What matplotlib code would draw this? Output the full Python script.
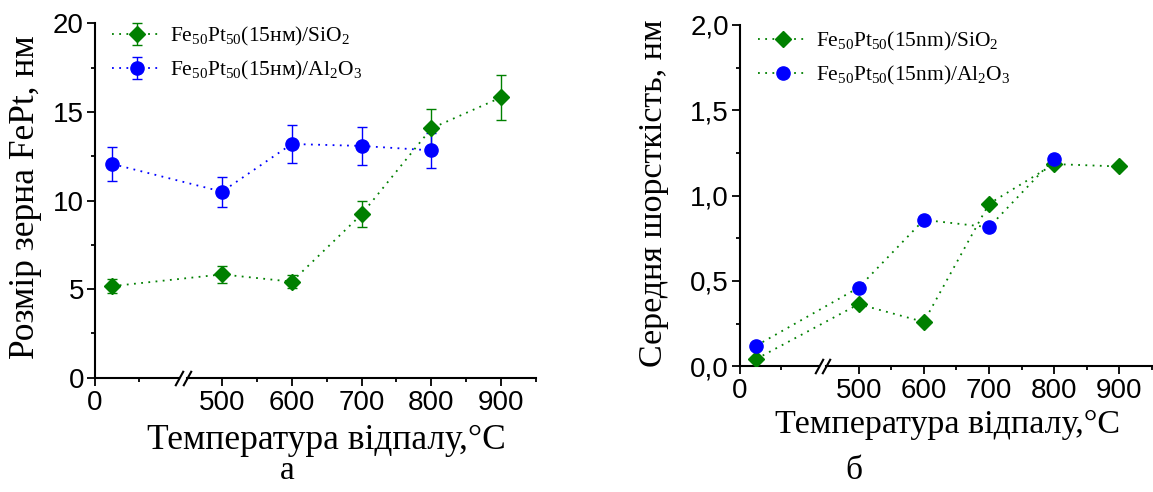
import numpy as np
import matplotlib
matplotlib.use('Agg')
import matplotlib.pyplot as plt
from matplotlib.ticker import FixedLocator, FuncFormatter, MultipleLocator

plt.rcParams['font.family'] = ['Liberation Serif', 'DejaVu Serif']
plt.rcParams['mathtext.fontset'] = 'custom'
plt.rcParams['mathtext.rm'] = 'Liberation Serif'
plt.rcParams['mathtext.it'] = 'Liberation Serif:italic'

# annealing temperatures, C (first point is the as-deposited film)
temps = [20, 500, 600, 700, 800, 900]
temps_al = [20, 500, 600, 700, 800]

# (a) grain size, nm
grain_sio2 = [5.17, 5.83, 5.42, 9.22, 14.07, 15.82]
grain_sio2_err = [0.4, 0.5, 0.35, 0.73, 1.12, 1.25]
grain_al2o3 = [12.06, 10.5, 13.19, 13.08, 12.83]
grain_al2o3_err = [0.97, 0.84, 1.05, 1.05, 1.0]

# (b) mean roughness, nm
rough_sio2 = [0.043, 0.364, 0.26, 0.952, 1.185, 1.171]
rough_al2o3 = [0.121, 0.461, 0.858, 0.815, 1.216]

x_major = [0, 500, 600, 700, 800, 900]
x_minor = [50, 550, 650, 750, 850, 950]
x_labels = ['0', '500', '600', '700', '800', '900']

GREEN = '#008000'
BLUE = '#0000ff'
DOTS = (0, (1, 3))


def to_axis(t):
    # broken x axis: 0..~100 is stretched, 450..950 is kept linear
    t = np.asarray(t, dtype=float)
    return np.where(t < 450, 1.25 * t, t - 450 + 132)


def setup_axis(ax, ymax, ystep, decimal_comma):
    for side in ['top', 'right', 'bottom']:
        ax.spines[side].set_visible(False)
    ax.spines['left'].set_linewidth(1.5)
    ax.set_xlim(0, float(to_axis(950)))
    ax.set_ylim(0, ymax)

    # bottom spine in two pieces with // break marks
    trans = ax.get_xaxis_transform()
    ax.plot([0, 121], [0, 0], transform=trans, color='k', lw=1.5, clip_on=False)
    ax.plot([132, float(to_axis(950))], [0, 0], transform=trans, color='k', lw=1.5,
            clip_on=False)
    ax.plot([121, 132], [0, 0], transform=trans, linestyle='none', color='k',
            marker=[(-0.55, -1), (0.55, 1)], markersize=11, mew=1.5, clip_on=False)

    ax.xaxis.set_major_locator(FixedLocator(to_axis(x_major)))
    ax.xaxis.set_minor_locator(FixedLocator(to_axis(x_minor)))
    ax.set_xticklabels(x_labels)
    ax.yaxis.set_major_locator(MultipleLocator(ystep))
    ax.yaxis.set_minor_locator(MultipleLocator(ystep / 2))
    if decimal_comma:
        ax.yaxis.set_major_formatter(FuncFormatter(lambda v, p: f'{v:.1f}'.replace('.', ',')))
    else:
        ax.yaxis.set_major_formatter(FuncFormatter(lambda v, p: f'{v:.0f}'))

    ax.tick_params(which='major', direction='out', length=5.5, width=1.3)
    ax.tick_params(which='minor', direction='out', length=3, width=1.3)
    ax.tick_params(axis='x', which='major', pad=3)
    ax.tick_params(axis='y', which='major', pad=2.5)
    for lab in ax.get_xticklabels() + ax.get_yticklabels():
        lab.set_fontfamily('Liberation Sans')
        lab.set_fontsize(20)


fig = plt.figure(figsize=(11.53, 4.92), dpi=100)
ax1 = fig.add_axes([0.0824, 0.2323, 0.3825, 0.7203])
ax2 = fig.add_axes([0.6418, 0.2555, 0.3573, 0.6937])

# ---- panel a
setup_axis(ax1, 20, 5, False)
ax1.errorbar(to_axis(temps), grain_sio2, yerr=grain_sio2_err, color=GREEN,
             linestyle=DOTS, lw=1.3, marker='D', markersize=7.7, ecolor=GREEN,
             elinewidth=1, capsize=3.5, capthick=1,
             label=r'Fe$_{50}$Pt$_{50}$(15нм)/SiO$_{2}$', zorder=3)
ax1.errorbar(to_axis(temps_al), grain_al2o3, yerr=grain_al2o3_err, color=BLUE,
             linestyle=DOTS, lw=1.3, marker='o', markersize=9.5, ecolor=BLUE,
             elinewidth=1, capsize=3.5, capthick=1,
             label=r'Fe$_{50}$Pt$_{50}$(15нм)/Al$_{2}$O$_{3}$', zorder=3)
ax1.legend(loc='upper left', bbox_to_anchor=(0.039, 0.995), frameon=False,
           fontsize=15.5, handlelength=2.3, handletextpad=0.4,
           labelspacing=0.5, borderpad=0, borderaxespad=0)

# ---- panel b
setup_axis(ax2, 2.0, 0.5, True)
ax2.plot(to_axis(temps), rough_sio2, color=GREEN, linestyle=DOTS, lw=1.3,
         marker='D', markersize=7.7, label=r'Fe$_{50}$Pt$_{50}$(15nm)/SiO$_{2}$', zorder=3)
ax2.plot(to_axis(temps_al), rough_al2o3, color=GREEN, linestyle=DOTS, lw=1.3,
         marker='o', markersize=9.5, markerfacecolor=BLUE, markeredgecolor=BLUE,
         label=r'Fe$_{50}$Pt$_{50}$(15nm)/Al$_{2}$O$_{3}$', zorder=3)
ax2.legend(loc='upper left', bbox_to_anchor=(0.044, 0.985), frameon=False,
           fontsize=15.5, handlelength=2.3, handletextpad=0.4,
           labelspacing=0.5, borderpad=0, borderaxespad=0)

# ---- axis titles and captions
fig.text(0.0217, 0.5986, 'Розмір зерна FePt, нм', rotation=90, ha='center',
         va='center', fontsize=25.5)
fig.text(0.567, 0.6077, 'Середня шорсткість, нм', rotation=90, ha='center',
         va='center', fontsize=24.5)
fig.text(0.2828, 0.0874, 'Температура відпалу,°С', ha='center', va='baseline',
         fontsize=25.5)
fig.text(0.8222, 0.12, 'Температура відпалу,°С', ha='center', va='baseline',
         fontsize=24.5)
fig.text(0.249, 0.026, 'а', ha='center', va='baseline', fontsize=24)
fig.text(0.7407, 0.026, 'б', ha='center', va='baseline', fontsize=24)

fig.savefig('out.png', dpi=100)
